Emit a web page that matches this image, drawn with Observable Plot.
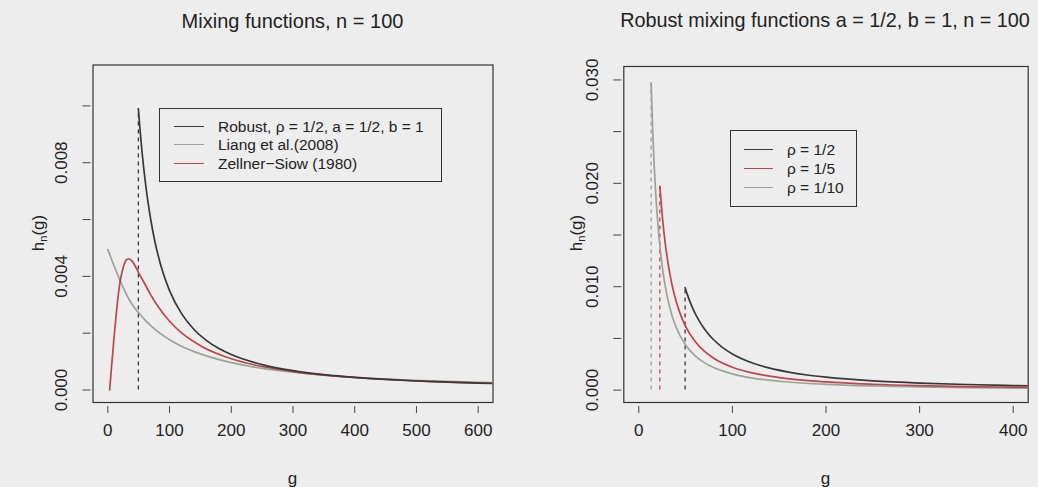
<!DOCTYPE html>
<html><head><meta charset="utf-8">
<script src="https://cdn.jsdelivr.net/npm/d3@7"></script>
<script src="https://cdn.jsdelivr.net/npm/@observablehq/plot@0.6"></script>
<style>
html,body{margin:0;padding:0;background:#ededed;}
#wrap{position:relative;width:1038px;height:487px;overflow:hidden;background:#ededed;font-family:"Liberation Sans",Arial,Helvetica,sans-serif;color:#222;}
.abs{position:absolute;white-space:nowrap;line-height:1;}
.leg{position:absolute;border:1.2px solid #333;box-sizing:border-box;}
.row{position:absolute;left:0;white-space:nowrap;font-size:15.5px;line-height:1;}
.sw{position:absolute;height:0;border-top:1.6px solid #333;}
svg{position:absolute;top:0;}
</style></head>
<body><div id="wrap"></div>
<script>
// ---------- data ----------
// Left panel: mixing functions, n = 100
const robustG = [49.5, 52, 55, 58, 62, 66, 70, 75, 80, 90, 100, 120, 140, 160, 180, 200, 250, 300, 350, 400, 450, 500, 550, 600, 650];
const robustH = [0.00990, 0.00921, 0.00848, 0.00784, 0.00711, 0.00648, 0.00594, 0.00536, 0.00487, 0.00409, 0.00350, 0.00267, 0.00212, 0.00174, 0.00146, 0.00125, 0.000894, 0.000680, 0.000540, 0.000442, 0.000371, 0.000317, 0.000275, 0.000241, 0.000214];
const liangG = [0, 45, 50, 60, 70, 80, 100, 120, 150, 200, 250, 300, 400, 500, 600, 650];
const liangH = [0.00494, 0.00284, 0.00272, 0.00247, 0.00226, 0.00207, 0.00177, 0.00153, 0.00127, 0.000962, 0.000764, 0.000625, 0.000447, 0.000340, 0.000270, 0.000243];
const zsG = [3, 20, 25, 30, 34, 40, 50, 60, 70, 80, 100, 120, 150, 200, 250, 300, 400, 500, 600, 650];
const zsH = [0, 0.00382, 0.00432, 0.00458, 0.00462, 0.00452, 0.00412, 0.00373, 0.00333, 0.00298, 0.00242, 0.00200, 0.00156, 0.00110, 0.000826, 0.000650, 0.000440, 0.000323, 0.000250, 0.000223];

// Right panel: robust mixing functions for three values of rho
const rho2G = [49.5, 52, 55, 58, 62, 66, 70, 75, 80, 90, 100, 120, 140, 160, 180, 200, 250, 300, 350, 400, 450];
const rho2H = [0.00990, 0.00921, 0.00848, 0.00784, 0.00711, 0.00648, 0.00594, 0.00536, 0.00487, 0.00409, 0.00350, 0.00267, 0.00212, 0.00174, 0.00146, 0.00125, 0.000894, 0.000680, 0.000540, 0.000442, 0.000371];
const rho5G = [22.5, 25, 28, 30, 35, 40, 45, 50, 60, 70, 80, 100, 120, 150, 200, 250, 300, 350, 400, 450];
const rho5H = [0.0197, 0.01695, 0.01439, 0.01302, 0.0104, 0.00856, 0.00720, 0.00617, 0.00472, 0.00376, 0.00308, 0.00221, 0.00169, 0.00121, 0.000789, 0.000565, 0.000430, 0.000342, 0.000280, 0.000235];
const rho10G = [13.2, 15, 18, 20, 25, 30, 35, 40, 50, 60, 70, 80, 100, 120, 150, 200, 250, 300, 350, 400, 450];
const rho10H = [0.0297, 0.0248, 0.0192, 0.0165, 0.0120, 0.00921, 0.00736, 0.00605, 0.00436, 0.00334, 0.00266, 0.00218, 0.00157, 0.00119, 0.000856, 0.000558, 0.000400, 0.000304, 0.000242, 0.000198, 0.000166];

// ticks
const xTicksL = [0, 100, 200, 300, 400, 500, 600];
const yTicksL = [0, 0.002, 0.004, 0.006, 0.008, 0.010];
const yLabelsL = [0, 0.004, 0.008];
const xTicksR = [0, 100, 200, 300, 400];
const yTicksR = [0, 0.005, 0.010, 0.015, 0.020, 0.025, 0.030];
const yLabelsR = [0, 0.010, 0.020, 0.030];

// labels
const titleL = "Mixing functions, n = 100";
const titleR = "Robust mixing functions a = 1/2, b = 1, n = 100";
const legendL = ["Robust, ρ = 1/2, a = 1/2, b = 1", "Liang et al.(2008)", "Zellner\u2212Siow (1980)"];
const legendR = ["ρ = 1/2", "ρ = 1/5", "ρ = 1/10"];

// colours
const cBlack = "#383838", cGray = "#9aa496", cRed = "#c0444f";

// ---------- build ----------
const zip = (g, h) => g.map((v, i) => ({g: v, h: h[i]}));
const robust = zip(robustG, robustH), liang = zip(liangG, liangH), zs = zip(zsG, zsH);
const r2 = zip(rho2G, rho2H), r5 = zip(rho5G, rho5H), r10 = zip(rho10G, rho10H);
const cutsL = [{g: robustG[0], h: robustH[0], c: cBlack}];
const cutsR = [
  {g: rho10G[0], h: rho10H[0], c: cGray},
  {g: rho5G[0], h: rho5H[0], c: cRed},
  {g: rho2G[0], h: rho2H[0], c: cBlack}
];

const FONT = "'Liberation Sans', Arial, Helvetica, sans-serif";
const common = (xt, yt, yl) => [
  Plot.frame({stroke: "#333", strokeWidth: 1.2}),
  Plot.axisX({ticks: xt, tickSize: 7, dy: 4, tickFormat: () => "", stroke: "#444", label: null}),
  Plot.axisY({ticks: yt, tickSize: 8, dx: -2, tickFormat: () => "", stroke: "#444", label: null}),
  Plot.text(xt, {x: d => d, frameAnchor: "bottom", dy: 33, text: d => String(d), fontSize: 17, fill: "#222"}),
  Plot.text(yl, {y: d => d, frameAnchor: "left", dx: -31, rotate: -90, textAnchor: "middle", text: d => d.toFixed(3), fontSize: 17, fill: "#222"})
];

const left = Plot.plot({
  width: 519, height: 487,
  marginLeft: 92.5, marginRight: 26.5, marginTop: 64.5, marginBottom: 85,
  style: {background: "transparent", fontFamily: FONT, overflow: "visible"},
  x: {domain: [-24, 624], axis: null, label: null},
  y: {domain: [-0.00044, 0.01144], axis: null, label: null},
  marks: [
    ...common(xTicksL, yTicksL, yLabelsL),
    Plot.ruleX(cutsL, {x: "g", y1: 0, y2: "h", stroke: "c", strokeDasharray: "4,4", strokeWidth: 1.3}),
    Plot.line(liang, {x: "g", y: "h", stroke: cGray, strokeWidth: 1.7, curve: "monotone-x", clip: true}),
    Plot.line(zs, {x: "g", y: "h", stroke: cRed, strokeWidth: 1.7, curve: "monotone-x", clip: true}),
    Plot.line(robust, {x: "g", y: "h", stroke: cBlack, strokeWidth: 1.7, curve: "monotone-x", clip: true})
  ]
});

const right = Plot.plot({
  width: 519, height: 487,
  marginLeft: 104.3, marginRight: 10.3, marginTop: 66, marginBottom: 85,
  style: {background: "transparent", fontFamily: FONT, overflow: "visible"},
  x: {domain: [-16, 416], axis: null, label: null},
  y: {domain: [-0.0012, 0.0313], axis: null, label: null},
  marks: [
    ...common(xTicksR, yTicksR, yLabelsR),
    Plot.ruleX(cutsR, {x: "g", y1: 0, y2: "h", stroke: "c", strokeDasharray: "4,4", strokeWidth: 1.3}),
    Plot.line(r10, {x: "g", y: "h", stroke: cGray, strokeWidth: 1.7, curve: "monotone-x", clip: true}),
    Plot.line(r5, {x: "g", y: "h", stroke: cRed, strokeWidth: 1.7, curve: "monotone-x", clip: true}),
    Plot.line(r2, {x: "g", y: "h", stroke: cBlack, strokeWidth: 1.7, curve: "monotone-x", clip: true})
  ]
});

const wrap = document.getElementById("wrap");
left.style.left = "0px";
right.style.left = "519px";
wrap.appendChild(left);
wrap.appendChild(right);

function addText(html, x, y, size, extra) {
  const d = document.createElement("div");
  d.className = "abs";
  d.style.left = x + "px"; d.style.top = y + "px"; d.style.fontSize = size + "px";
  d.style.transform = extra || "translate(-50%,-50%)";
  d.innerHTML = html;
  wrap.appendChild(d);
  return d;
}
// titles
addText(titleL, 292.5, 21, 20);
addText(titleR, 825, 21, 19.8);
// axis titles
addText("g", 292.5, 478, 17);
addText("g", 825.5, 478, 17);
const yt = "h<sub style='font-size:11px;vertical-align:-3px'>n</sub>(g)";
addText(yt, 39, 233, 17, "translate(-50%,-50%) rotate(-90deg)");
addText(yt, 577, 233, 17, "translate(-50%,-50%) rotate(-90deg)");

function legend(box, rows, colors, labels) {
  const b = document.createElement("div");
  b.className = "leg";
  Object.assign(b.style, {left: box[0] + "px", top: box[1] + "px", width: box[2] + "px", height: box[3] + "px"});
  wrap.appendChild(b);
  labels.forEach((t, i) => {
    const s = document.createElement("div");
    s.className = "sw";
    Object.assign(s.style, {left: rows.lx + "px", width: rows.lw + "px", top: (rows.y[i] - 0.8) + "px", borderTopColor: colors[i]});
    wrap.appendChild(s);
    const d = document.createElement("div");
    d.className = "row";
    Object.assign(d.style, {left: rows.tx + "px", top: (rows.y[i] - 8) + "px"});
    d.textContent = t;
    wrap.appendChild(d);
  });
}
legend([159, 108, 283, 74], {lx: 174, lw: 30, tx: 218, y: [127, 145, 163.5]}, [cBlack, cGray, cRed], legendL);
legend([730, 130, 127, 77], {lx: 744, lw: 29, tx: 787, y: [149.5, 168.5, 187.5]}, [cBlack, cRed, cGray], legendR);
</script>
</body></html>
